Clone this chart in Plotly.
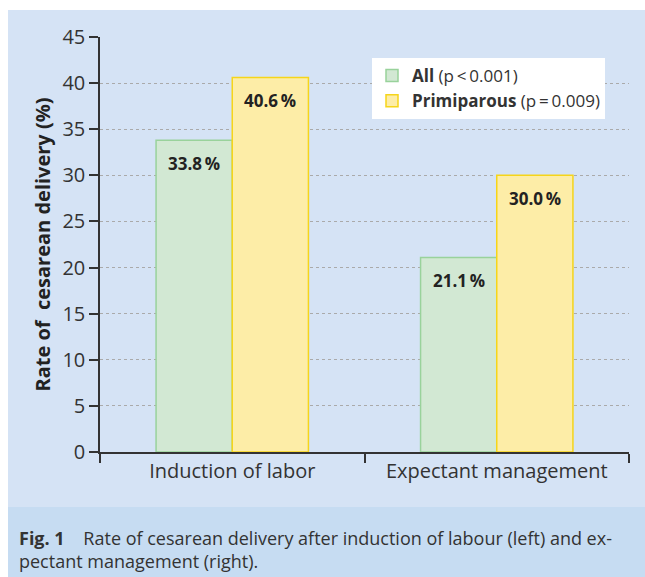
import plotly.graph_objects as go

categories = ["Induction of labor", "Expectant management"]
all_vals = [33.8, 21.1]
prim_vals = [40.6, 30.0]
series_names = ["<b>All</b> (p\u2009<\u20090.001)", "<b>Primiparous</b> (p\u2009=\u20090.009)"]
y_ticks = [0, 5, 10, 15, 20, 25, 30, 35, 40, 45]
caption = ("<b>Fig. 1</b>    Rate of cesarean delivery after induction of labour (left) and ex-<br>"
           "pectant management (right).")
y_title = "<b>Rate of  cesarean delivery (%)</b>"

W, H = 645, 577
L, R, T, B = 100, 16, 37, 125
PW, PH = W - L - R, H - T - B

def px(xp):
    return (xp - L) / PW

def py(yp):
    return (H - B - yp) / PH

FONT = "Open Sans, sans-serif"
BARGAP = 0.424

green_fill, green_line = "#d2e8d3", "#99d29b"
yellow_fill, yellow_line = "#fdeda7", "#f6d51a"

fig = go.Figure()
fig.add_trace(go.Bar(x=categories, y=all_vals, name=series_names[0],
                     marker=dict(color=green_fill, line=dict(color=green_line, width=1.5))))
fig.add_trace(go.Bar(x=categories, y=prim_vals, name=series_names[1],
                     marker=dict(color=yellow_fill, line=dict(color=yellow_line, width=1.5))))

half = (1 - BARGAP) / 4
annots = []
for i, (a, p) in enumerate(zip(all_vals, prim_vals)):
    for off, v in ((-half, a), (half, p)):
        annots.append(dict(x=i + off, y=v, xref="x", yref="y", text="<b>%.1f\u2009%%</b>" % v,
                           showarrow=False, yanchor="middle", yshift=-23,
                           font=dict(family=FONT, size=17, color="#222")))
annots.append(dict(x=px(17), y=py(524), xref="paper", yref="paper", text=caption,
                   showarrow=False, xanchor="left", yanchor="top", align="left",
                   font=dict(family=FONT, size=18, color="#333")))

shapes = [
    dict(type="rect", xref="paper", yref="paper", x0=px(8), x1=px(W + 5), y0=py(10), y1=py(507),
         fillcolor="#d5e3f5", line=dict(width=0), layer="below"),
    dict(type="rect", xref="paper", yref="paper", x0=px(8), x1=px(W + 5), y0=py(507), y1=py(H + 5),
         fillcolor="#c6dcf2", line=dict(width=0), layer="below"),
]

fig.update_layout(
    width=W, height=H,
    margin=dict(l=L, r=R, t=T, b=B),
    paper_bgcolor="white", plot_bgcolor="white",
    barmode="group", bargap=BARGAP, bargroupgap=0,
    font=dict(family=FONT, size=18, color="#333"),
    showlegend=True,
    legend=dict(x=px(372), y=py(58), xanchor="left", yanchor="top", bgcolor="white",
                font=dict(family=FONT, size=17, color="#333"), tracegroupgap=0,
                itemwidth=30),
    annotations=annots, shapes=shapes,
    xaxis=dict(range=[-0.5, 1.5], showline=True, linecolor="#333", linewidth=1.5,
               ticks="outside", tickson="boundaries", ticklen=9, tickcolor="#333", tickwidth=1.5,
               tickfont=dict(size=20, color="#333"), showgrid=False),
    yaxis=dict(range=[0, 45], tickvals=y_ticks, showline=True, linecolor="#333", linewidth=1.5,
               ticks="outside", ticklen=9, tickcolor="#333", tickwidth=1.5,
               tickfont=dict(size=20, color="#333"),
               showgrid=True, gridcolor="#aaa", griddash="dot", gridwidth=1, zeroline=False,
               title=dict(text=y_title, font=dict(size=20, color="#222"), standoff=6)),
)

fig.write_html("out.html", config={"displayModeBar": False},
               post_script="document.body.style.margin='0';document.body.style.overflow='hidden';")
